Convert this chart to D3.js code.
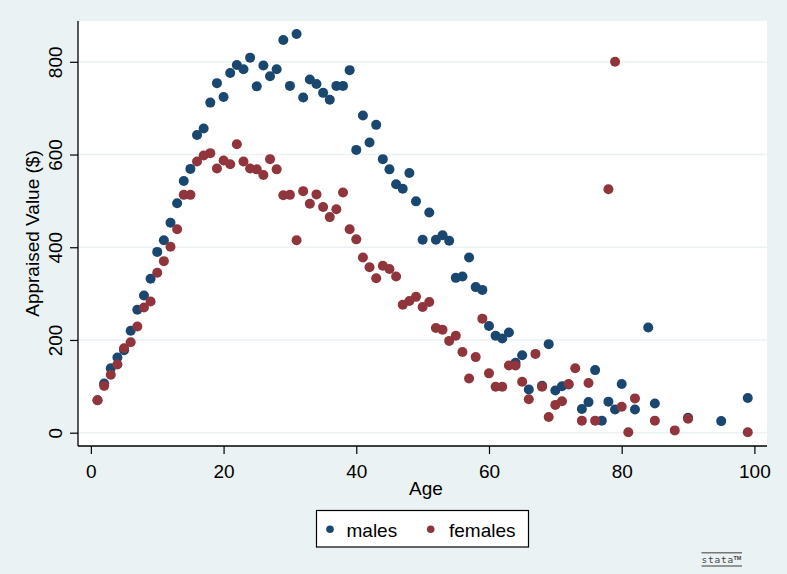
<!DOCTYPE html>
<html>
<head>
<meta charset="utf-8">
<script src="https://cdn.jsdelivr.net/npm/d3@7"></script>
<style>
  html, body { margin: 0; padding: 0; background: #eaf2f3; }
  svg { display: block; font-family: "Liberation Sans", Arial, Helvetica, sans-serif; }
</style>
</head>
<body>
<svg id="chart" width="787" height="574"></svg>
<script>
// Appraised value by age, males and females
const maleAge = [1,2,3,4,5,6,7,8,9,10,11,12,13,14,15,16,17,18,19,20,
  21,22,23,24,25,26,27,28,29,30,31,32,33,34,35,36,37,38,39,40,
  41,42,43,44,45,46,47,48,49,50,51,52,53,54,55,56,57,58,59,60,
  61,62,63,64,65,66,68,69,70,71,72,74,75,76,77,78,79,80,82,84,85,90,95,99];
const maleValue = [70,106,139,162,178,220,265,296,332,390,415,453,495,543,569,642,656,712,754,724,
  776,793,784,809,747,792,769,784,847,748,860,723,762,752,733,718,748,748,782,610,
  684,626,664,590,568,536,526,560,499,416,475,416,426,414,334,337,378,314,308,230,
  209,203,216,151,167,93,101,191,91,100,104,51,66,135,26,67,50,105,50,227,63,32,25,75];

const femaleAge = [1,2,3,4,5,6,7,8,9,10,11,12,13,14,15,16,17,18,19,20,
  21,22,23,24,25,26,27,28,29,30,31,32,33,34,35,36,37,38,39,40,
  41,42,43,44,45,46,47,48,49,50,51,52,53,54,55,56,57,58,59,60,
  61,62,63,64,65,66,67,68,69,70,71,72,73,74,75,76,78,79,80,81,82,85,88,90,99];
const femaleValue = [70,101,125,147,182,195,229,270,283,345,370,401,439,513,513,585,598,603,570,587,
  579,622,585,570,568,556,590,568,512,513,415,521,494,514,487,465,482,518,439,417,
  378,357,333,360,353,337,276,284,293,271,282,226,222,198,209,174,117,163,246,128,
  99,99,145,145,110,72,170,99,34,60,68,105,139,26,107,26,525,800,56,1,74,26,5,30,1];

const xTicks = [0, 20, 40, 60, 80, 100];
const yTicks = [0, 200, 400, 600, 800];
const seriesNames = ["males", "females"];
const seriesColors = ["#1a476f", "#90353b"];

const svg = d3.select("#chart");
const plot = { left: 78, right: 767, top: 21, bottom: 446 };

const x = d3.scaleLinear().domain([-1.94, 101.9]).range([plot.left, plot.right]);
const y = d3.scaleLinear().domain([-28.7, 888]).range([plot.bottom, plot.top]);

// graph background and plot region
svg.append("rect").attr("width", 787).attr("height", 574).attr("fill", "#eaf2f3");
svg.append("rect")
  .attr("x", plot.left).attr("y", plot.top)
  .attr("width", plot.right - plot.left).attr("height", plot.bottom - plot.top)
  .attr("fill", "#ffffff");

// horizontal grid
svg.append("g").selectAll("line").data(yTicks).join("line")
  .attr("x1", plot.left).attr("x2", plot.right)
  .attr("y1", d => y(d)).attr("y2", d => y(d))
  .attr("stroke", "#eaf2f3").attr("stroke-width", 1.4);

// x axis
const xAxis = svg.append("g")
  .attr("transform", `translate(0,${plot.bottom})`)
  .call(d3.axisBottom(x).tickValues(xTicks).tickSize(8).tickPadding(4).tickFormat(d3.format("d")));
xAxis.select(".domain").attr("d", `M${plot.left},0H${plot.right}`).attr("stroke", "#000").attr("stroke-width", 1.3);
xAxis.selectAll(".tick line").attr("stroke", "#000").attr("stroke-width", 1.2);
xAxis.selectAll(".tick text")
  .attr("font-size", 19).attr("fill", "#000")
  .attr("dy", null).attr("y", 31.5);

// y axis
const yAxis = svg.append("g")
  .attr("transform", `translate(${plot.left},0)`)
  .call(d3.axisLeft(y).tickValues(yTicks).tickSize(8).tickFormat(d3.format("d")));
yAxis.select(".domain").attr("d", `M0,${plot.top}V${plot.bottom}`).attr("stroke", "#000").attr("stroke-width", 1.3);
yAxis.selectAll(".tick line").attr("stroke", "#000").attr("stroke-width", 1.2);
yAxis.selectAll(".tick text")
  .attr("font-size", 19).attr("fill", "#000")
  .attr("x", null).attr("dy", null)
  .attr("text-anchor", "middle")
  .attr("transform", "translate(-16,0) rotate(-90)");

// axis titles
svg.append("text")
  .attr("x", x(50.5)).attr("y", 494.5)
  .attr("text-anchor", "middle").attr("font-size", 19).attr("fill", "#000")
  .text("Age");
svg.append("text")
  .attr("transform", `translate(39,${(plot.top + plot.bottom) / 2}) rotate(-90)`)
  .attr("text-anchor", "middle").attr("font-size", 19).attr("fill", "#000")
  .text("Appraised Value ($)");

// scatter points: males first, females drawn over them
const series = [
  { ages: maleAge, values: maleValue },
  { ages: femaleAge, values: femaleValue }
];
series.forEach((s, i) => {
  svg.append("g").selectAll("circle")
    .data(s.ages.map((a, j) => ({ age: a, value: s.values[j] })))
    .join("circle")
    .attr("cx", d => x(d.age))
    .attr("cy", d => y(d.value))
    .attr("r", 5)
    .attr("fill", seriesColors[i]);
});

// legend
const legend = svg.append("g");
legend.append("rect")
  .attr("x", 316.5).attr("y", 510.5).attr("width", 212).attr("height", 36.5)
  .attr("fill", "#ffffff").attr("stroke", "#000").attr("stroke-width", 1.2);
const legendItems = [
  { marker: 330, text: 346.5 },
  { marker: 430.7, text: 449 }
];
legendItems.forEach((p, i) => {
  legend.append("circle").attr("cx", p.marker).attr("cy", 529.3).attr("r", 3.8).attr("fill", seriesColors[i]);
  legend.append("text").attr("x", p.text).attr("y", 536.5)
    .attr("font-size", 19).attr("fill", "#000").text(seriesNames[i]);
});

// stata mark
const mark = svg.append("g").attr("fill", "#444").attr("stroke", "#777");
mark.append("line").attr("x1", 701.5).attr("x2", 742).attr("y1", 552.7).attr("y2", 552.7).attr("stroke-width", 1.4);
mark.append("line").attr("x1", 701.5).attr("x2", 742).attr("y1", 566).attr("y2", 566).attr("stroke-width", 1.4);
mark.append("text").attr("x", 701.5).attr("y", 562.5)
  .attr("stroke", "none").attr("font-family", "DejaVu Sans Mono, monospace")
  .attr("font-size", 9.5).attr("letter-spacing", 0.8).text("stata");
mark.append("text").attr("x", 733.5).attr("y", 559.5)
  .attr("stroke", "none").attr("font-size", 5.5).attr("font-weight", "bold").text("TM");
</script>
</body>
</html>
